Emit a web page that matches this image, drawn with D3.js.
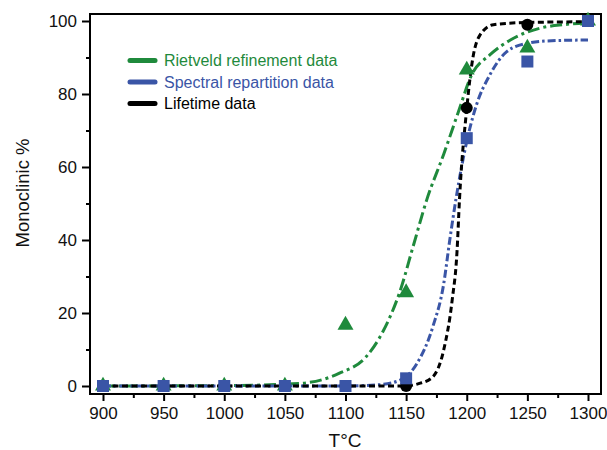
<!DOCTYPE html>
<html>
<head>
<meta charset="utf-8">
<script src="https://cdn.jsdelivr.net/npm/d3@7"></script>
<style>
body { margin: 0; background: #fff; }
svg { display: block; font-family: "Liberation Sans", Arial, sans-serif; }
</style>
</head>
<body>
<svg id="chart" width="607" height="450"></svg>
<script>
// ---- data ----
const temps = [900, 950, 1000, 1050, 1100, 1150, 1200, 1250, 1300];
const rietveld = [0, 0, 0, 0, 16.7, 25.6, 86.6, 92.6, 100];
const spectral = [0, 0, 0, 0, 0, 2.1, 67.9, 88.9, 100];
const lifetime = [0, 0, 0, 0, 0, 0, 76.2, 99, 100];

// fitted curves
const rietveldFitT = [900, 1000, 1062, 1095, 1117, 1131, 1145, 1156, 1167, 1181, 1193, 1204, 1219, 1236, 1260, 1280, 1300];
const rietveldFitV = [0, 0.1, 0.7, 3.5, 8, 15, 26, 38.5, 51, 63.5, 75, 85.2, 90.7, 94.8, 98, 99, 99.5];
const spectralFitT = [900, 1100, 1126, 1145, 1159, 1172, 1181, 1186, 1191, 1200, 1208, 1219, 1233, 1250, 1270, 1300];
const spectralFitV = [0, 0, 0.3, 1.6, 6.2, 16.2, 28, 40, 51, 67, 77, 85.2, 91.6, 93.9, 94.6, 94.8];
const lifetimeFitT = [900, 1148, 1161, 1172, 1181, 1188, 1192, 1194, 1200, 1205, 1211, 1222, 1250, 1300];
const lifetimeFitV = [0, 0, 0.7, 2.5, 9.9, 23.6, 37, 51, 76, 89.8, 96.2, 99, 99.6, 99.8];

const xTicks = [900, 950, 1000, 1050, 1100, 1150, 1200, 1250, 1300];
const xMinor = [925, 975, 1025, 1075, 1125, 1175, 1225, 1275];
const yTicks = [0, 20, 40, 60, 80, 100];
const yMinor = [10, 30, 50, 70, 90];

const legendLabels = ["Rietveld refinement data", "Spectral repartition data", "Lifetime data"];
const colors = ["#1f8a3c", "#3a55a6", "#000000"];

// ---- layout ----
const svg = d3.select("#chart");
const frame = {l: 90, r: 601, t: 14, b: 394};
const x = d3.scaleLinear().domain([900, 1300]).range([103, 588]);
const y = d3.scaleLinear().domain([0, 100]).range([386, 21]);

// axes
const xAxis = svg.append("g").attr("transform", `translate(0,${frame.b})`)
  .call(d3.axisBottom(x).tickValues(xTicks).tickSize(7).tickPadding(6).tickFormat(d3.format("d")));
const xAxisMinor = svg.append("g").attr("transform", `translate(0,${frame.b})`)
  .call(d3.axisBottom(x).tickValues(xMinor).tickSize(4).tickFormat(""));
const yAxis = svg.append("g").attr("transform", `translate(${frame.l},0)`)
  .call(d3.axisLeft(y).tickValues(yTicks).tickSize(8).tickPadding(5));
const yAxisMinor = svg.append("g").attr("transform", `translate(${frame.l},0)`)
  .call(d3.axisLeft(y).tickValues(yMinor).tickSize(4).tickFormat(""));
[xAxis, xAxisMinor, yAxis, yAxisMinor].forEach(g => {
  g.select(".domain").remove();
  g.selectAll(".tick line").attr("stroke", "#000").attr("stroke-width", 2);
  g.selectAll(".tick text").attr("fill", "#111").style("font-size", "17px")
    .style("font-family", "'Liberation Sans', Arial, sans-serif");
});

// frame
svg.append("rect")
  .attr("x", frame.l).attr("y", frame.t)
  .attr("width", frame.r - frame.l).attr("height", frame.b - frame.t)
  .attr("fill", "none").attr("stroke", "#000").attr("stroke-width", 2);

// axis titles
svg.append("text").attr("x", 345).attr("y", 447).attr("text-anchor", "middle")
  .style("font-size", "19px").attr("fill", "#111").text("T°C");
svg.append("text").attr("transform", "translate(29,193) rotate(-90)").attr("text-anchor", "middle")
  .style("font-size", "18.5px").attr("fill", "#111").text("Monoclinic %");

// fit curves
const line = d3.line().x(d => x(d[0])).y(d => y(d[1])).curve(d3.curveMonotoneX);
const fits = [
  {T: rietveldFitT, V: rietveldFitV, color: colors[0], dash: "12,4,3,4"},
  {T: spectralFitT, V: spectralFitV, color: colors[1], dash: "8,3,2.5,3"},
  {T: lifetimeFitT, V: lifetimeFitV, color: colors[2], dash: "6,3.5"}
];
fits.forEach(f => {
  svg.append("path").datum(f.T.map((t, i) => [t, f.V[i]]))
    .attr("d", line).attr("fill", "none")
    .attr("stroke", f.color).attr("stroke-width", 3)
    .attr("stroke-dasharray", f.dash);
});

// markers
svg.append("g").selectAll("path").data(temps.map((t, i) => [t, rietveld[i]]))
  .join("path")
  .attr("transform", d => `translate(${x(d[0])},${y(d[1])})`)
  .attr("d", d3.symbol(d3.symbolTriangle, 110)())
  .attr("fill", colors[0]);
svg.append("g").selectAll("circle").data(temps.map((t, i) => [t, lifetime[i]]))
  .join("circle")
  .attr("cx", d => x(d[0])).attr("cy", d => y(d[1])).attr("r", 6)
  .attr("fill", colors[2]);
svg.append("g").selectAll("rect").data(temps.map((t, i) => [t, spectral[i]]))
  .join("rect")
  .attr("x", d => x(d[0]) - 6).attr("y", d => y(d[1]) - 6)
  .attr("width", 12).attr("height", 12)
  .attr("fill", colors[1]);

// legend
const leg = svg.append("g");
legendLabels.forEach((lab, i) => {
  const yy = 60.5 + i * 21.5;
  leg.append("line").attr("x1", 130).attr("x2", 155).attr("y1", yy).attr("y2", yy)
    .attr("stroke", colors[i]).attr("stroke-width", 5).attr("stroke-linecap", "round");
  leg.append("text").attr("x", 164).attr("y", yy + 5.5).style("font-size", "16px")
    .attr("fill", colors[i]).text(lab);
});
</script>
</body>
</html>
